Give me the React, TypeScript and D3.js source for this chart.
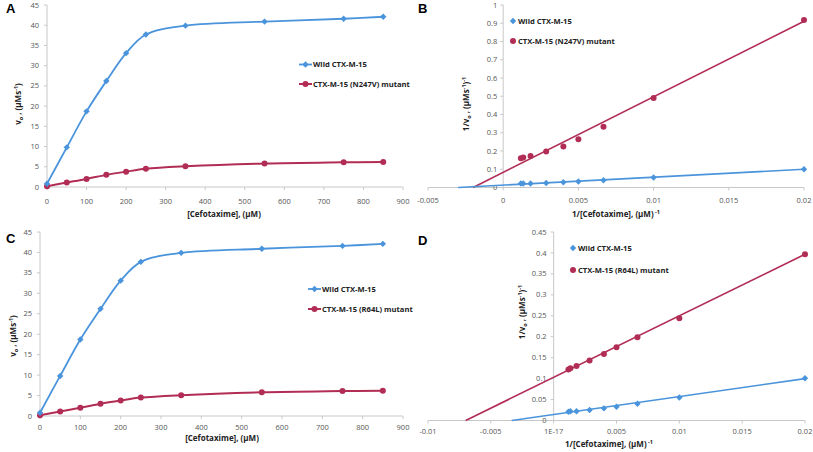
import React from "react";
import * as d3 from "d3";

// ---------- data ----------
const substrate = [0, 50, 100, 150, 200, 250, 350, 550, 750, 850];
const wildV = [0.8, 9.8, 18.7, 26.2, 33.1, 37.7, 39.9, 40.9, 41.6, 42.1];
const n247vV = [0.2, 1.1, 2.0, 3.0, 3.8, 4.5, 5.1, 5.8, 6.1, 6.2];
const wildVC = [0.8, 9.8, 18.7, 26.2, 33.1, 37.7, 39.9, 40.9, 41.6, 42.1];
const r64lV = [0.2, 1.1, 2.0, 3.0, 3.8, 4.5, 5.1, 5.8, 6.1, 6.2];

const invS = [0.001176, 0.001333, 0.001818, 0.002857, 0.004, 0.005, 0.006667, 0.01, 0.02];
const wildInvB = [0.022, 0.022, 0.022, 0.025, 0.029, 0.033, 0.04, 0.055, 0.1];
const n247vInv = [0.16, 0.165, 0.172, 0.197, 0.225, 0.265, 0.333, 0.49, 0.918];
const wildInvD = [0.021, 0.022, 0.022, 0.025, 0.029, 0.033, 0.04, 0.055, 0.101];
const r64lInv = [0.122, 0.125, 0.13, 0.143, 0.159, 0.175, 0.199, 0.244, 0.397];

// trend lines: [slope, intercept, xStart, xEnd]
const trendWildB = [4.35, 0.013, -0.003, 0.02];
const trendN247v = [41.4, 0.083, -0.002, 0.02];
const trendWildD = [4.28, 0.0143, -0.00334, 0.02];
const trendR64l = [14.7, 0.103, -0.007, 0.02];

const mmXTicks = [0, 100, 200, 300, 400, 500, 600, 700, 800, 900];
const mmYTicks = [0, 5, 10, 15, 20, 25, 30, 35, 40, 45];
const bXTicks = [-0.005, 0, 0.005, 0.01, 0.015, 0.02];
const bXLabels = ["-0.005", "0", "0.005", "0.01", "0.015", "0.02"];
const bYTicks = [0, 0.1, 0.2, 0.3, 0.4, 0.5, 0.6, 0.7, 0.8, 0.9, 1];
const dXTicks = [-0.01, -0.005, 0, 0.005, 0.01, 0.015, 0.02];
const dXLabels = ["-0.01", "-0.005", "1E-17", "0.005", "0.01", "0.015", "0.02"];
const dYTicks = [0, 0.05, 0.1, 0.15, 0.2, 0.25, 0.3, 0.35, 0.4, 0.45];

const BLUE = "#4a94dc";
const RED = "#b22d56";
const AXIS = "#c8c8c8";
const TICKTXT = "#555";
const FONT = "'Open Sans', 'Liberation Sans', sans-serif";

type Pt = [number, number];

function Marker({ kind, x, y, color }: { kind: string; x: number; y: number; color: string }) {
  if (kind === "diamond") {
    const s = 3.2;
    return <path d={`M${x},${y - s}L${x + s},${y}L${x},${y + s}L${x - s},${y}Z`} fill={color} />;
  }
  return <circle cx={x} cy={y} r={3} fill={color} />;
}

function XAxis({ x, y0, ticks, labels, labelY }: any) {
  const [a, b] = x.range();
  return (
    <g>
      <line x1={a} x2={b} y1={y0} y2={y0} stroke={AXIS} strokeWidth={1} />
      {ticks.map((t: number, i: number) => (
        <g key={i}>
          <line x1={x(t)} x2={x(t)} y1={y0} y2={y0 + 3} stroke={AXIS} />
          <text x={x(t)} y={labelY} textAnchor="middle" fontSize={7.5} fill={TICKTXT} fontFamily={FONT}>
            {labels ? labels[i] : String(t)}
          </text>
        </g>
      ))}
    </g>
  );
}

function YAxis({ y, x0, ticks, gap }: any) {
  const [a, b] = y.range();
  return (
    <g>
      <line x1={x0} x2={x0} y1={a} y2={b} stroke={AXIS} strokeWidth={1} />
      {ticks.map((t: number, i: number) => (
        <g key={i}>
          <line x1={x0 - 3} x2={x0} y1={y(t)} y2={y(t)} stroke={AXIS} />
          <text x={x0 - gap} y={y(t) + 2.6} textAnchor="end" fontSize={7.5} fill={TICKTXT} fontFamily={FONT}>
            {String(t)}
          </text>
        </g>
      ))}
    </g>
  );
}

function MMPanel({ letter, xr, yr, mutant, mutantLabel, legendX, legendY, yTitle, xTitle, labelY, wild }: any) {
  const x = d3.scaleLinear().domain([0, 900]).range(xr);
  const y = d3.scaleLinear().domain([0, 45]).range(yr);
  const line = d3
    .line<Pt>()
    .x((d) => x(d[0]))
    .y((d) => y(d[1]))
    .curve(d3.curveCatmullRom.alpha(0.5));
  const wPts: Pt[] = substrate.map((s, i) => [s, wild[i]]);
  const mPts: Pt[] = substrate.map((s, i) => [s, mutant[i]]);
  return (
    <g>
      <text x={letter[1]} y={letter[2]} fontSize={13} fontWeight="bold" fontFamily="'Liberation Sans', Arial, sans-serif">
        {letter[0]}
      </text>
      <YAxis y={y} x0={x(0)} ticks={mmYTicks} gap={8} />
      <XAxis x={x} y0={y(0)} ticks={mmXTicks} labelY={labelY} />
      <path d={line(mPts) || ""} fill="none" stroke={RED} strokeWidth={2} />
      <path d={line(wPts) || ""} fill="none" stroke={BLUE} strokeWidth={1.8} />
      {mPts.map((p, i) => (
        <Marker key={"m" + i} kind="circle" x={x(p[0])} y={y(p[1])} color={RED} />
      ))}
      {wPts.map((p, i) => (
        <Marker key={"w" + i} kind="diamond" x={x(p[0])} y={y(p[1])} color={BLUE} />
      ))}
      <g fontFamily={FONT} fontSize={7.6} fontWeight="bold" fill="#222">
        <line x1={legendX} x2={legendX + 13} y1={legendY[0]} y2={legendY[0]} stroke={BLUE} strokeWidth={1.8} />
        <Marker kind="diamond" x={legendX + 6.5} y={legendY[0]} color={BLUE} />
        <text x={legendX + 14} y={legendY[0] + 2.7}>Wild CTX-M-15</text>
        <line x1={legendX} x2={legendX + 13} y1={legendY[1]} y2={legendY[1]} stroke={RED} strokeWidth={2} />
        <Marker kind="circle" x={legendX + 6.5} y={legendY[1]} color={RED} />
        <text x={legendX + 14} y={legendY[1] + 2.7}>{mutantLabel}</text>
      </g>
      <text
        transform={`translate(${yTitle[0]},${yTitle[1]}) rotate(-90)`}
        textAnchor="middle"
        fontSize={8}
        fontWeight="bold"
        fontFamily={FONT}
        fill="#222"
      >
        v<tspan fontSize={5.5} dy={1.5}>o</tspan>
        <tspan dy={-1.5}> , (µMs</tspan>
        <tspan fontSize={5.5} dy={-3}>-1</tspan>
        <tspan dy={3}>)</tspan>
      </text>
      <text x={xTitle[0]} y={xTitle[1]} textAnchor="middle" fontSize={8} fontWeight="bold" fontFamily={FONT} fill="#222">
        [Cefotaxime], (µM)
      </text>
    </g>
  );
}

function LBPanel({ letter, xd, xr, yd, yr, xTicks, xLabels, yTicks, wild, mutant, tW, tM, mutantLabel, legend, yTitle, xTitle, labelY, yGap }: any) {
  const x = d3.scaleLinear().domain(xd).range(xr);
  const y = d3.scaleLinear().domain(yd).range(yr);
  const tl = (t: number[]) => {
    const pts: Pt[] = [
      [t[2], t[0] * t[2] + t[1]],
      [t[3], t[0] * t[3] + t[1]],
    ];
    return d3.line<Pt>().x((d) => x(d[0])).y((d) => y(d[1]))(pts) || "";
  };
  return (
    <g>
      <text x={letter[1]} y={letter[2]} fontSize={13} fontWeight="bold" fontFamily="'Liberation Sans', Arial, sans-serif">
        {letter[0]}
      </text>
      <XAxis x={x} y0={y(0)} ticks={xTicks} labels={xLabels} labelY={labelY} />
      <YAxis y={y} x0={x(0)} ticks={yTicks} gap={yGap} />
      <path d={tl(tM)} stroke={RED} strokeWidth={1.6} fill="none" />
      <path d={tl(tW)} stroke={BLUE} strokeWidth={1.6} fill="none" />
      {invS.map((s, i) => (
        <Marker key={"m" + i} kind="circle" x={x(s)} y={y(mutant[i])} color={RED} />
      ))}
      {invS.map((s, i) => (
        <Marker key={"w" + i} kind="diamond" x={x(s)} y={y(wild[i])} color={BLUE} />
      ))}
      <g fontFamily={FONT} fontSize={7.6} fontWeight="bold" fill="#222">
        <Marker kind="diamond" x={legend[0]} y={legend[1]} color={BLUE} />
        <text x={legend[0] + 5} y={legend[1] + 2.7}>Wild CTX-M-15</text>
        <Marker kind="circle" x={legend[0]} y={legend[2]} color={RED} />
        <text x={legend[0] + 5} y={legend[2] + 2.7}>{mutantLabel}</text>
      </g>
      <text
        transform={`translate(${yTitle[0]},${yTitle[1]}) rotate(-90)`}
        textAnchor="middle"
        fontSize={8}
        fontWeight="bold"
        fontFamily={FONT}
        fill="#222"
      >
        1/v<tspan fontSize={5.5} dy={1.5}>o</tspan>
        <tspan dy={-1.5}> , (µMs</tspan>
        <tspan fontSize={5.5} dy={-3}>-1</tspan>
        <tspan dy={3}>)</tspan>
        <tspan fontSize={5.5} dy={-3}>-1</tspan>
      </text>
      <text x={xTitle[0]} y={xTitle[1]} textAnchor="middle" fontSize={8} fontWeight="bold" fontFamily={FONT} fill="#222">
        1/[Cefotaxime], (µM)<tspan fontSize={5.5} dy={-3}> -1</tspan>
      </text>
    </g>
  );
}

export default function App() {
  return (
    <svg width={813} height={452} style={{ position: "absolute", left: 0, top: 0, background: "#fff" }}>
      <rect width={813} height={452} fill="#fff" />
      <MMPanel
        letter={["A", 6, 13]}
        xr={[47, 403]}
        yr={[187, 5]}
        wild={wildV}
        mutant={n247vV}
        mutantLabel="CTX-M-15 (N247V) mutant"
        legendX={299}
        legendY={[64.5, 84]}
        yTitle={[21, 104]}
        xTitle={[224, 217]}
        labelY={204}
      />
      <LBPanel
        letter={["B", 418, 13]}
        xd={[-0.005, 0.02]}
        xr={[428, 804]}
        yd={[0, 1]}
        yr={[187.5, 5]}
        xTicks={bXTicks}
        xLabels={bXLabels}
        yTicks={bYTicks}
        wild={wildInvB}
        mutant={n247vInv}
        tW={trendWildB}
        tM={trendN247v}
        mutantLabel="CTX-M-15 (N247V) mutant"
        legend={[513, 21, 41]}
        yTitle={[469, 104]}
        xTitle={[616, 217]}
        labelY={203}
        yGap={6}
      />
      <MMPanel
        letter={["C", 6, 243]}
        xr={[40, 403]}
        yr={[416, 232]}
        wild={wildVC}
        mutant={r64lV}
        mutantLabel="CTX-M-15 (R64L) mutant"
        legendX={308}
        legendY={[289, 309]}
        yTitle={[16, 336]}
        xTitle={[222, 441]}
        labelY={430}
      />
      <LBPanel
        letter={["D", 418, 245]}
        xd={[-0.01, 0.02]}
        xr={[428, 805]}
        yd={[0, 0.45]}
        yr={[420.5, 232]}
        xTicks={dXTicks}
        xLabels={dXLabels}
        yTicks={dYTicks}
        wild={wildInvD}
        mutant={r64lInv}
        tW={trendWildD}
        tM={trendR64l}
        mutantLabel="CTX-M-15 (R64L) mutant"
        legend={[573, 248, 270]}
        yTitle={[525, 312]}
        xTitle={[609, 447]}
        labelY={434}
        yGap={7}
      />
    </svg>
  );
}
